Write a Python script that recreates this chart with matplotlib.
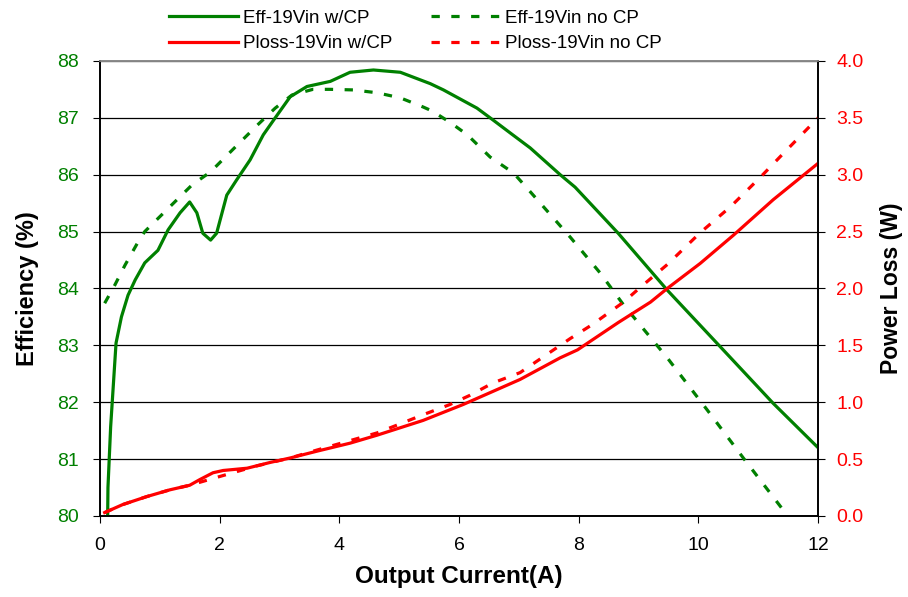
import matplotlib.pyplot as plt
from matplotlib.lines import Line2D

plt.rcParams['font.family'] = ['Liberation Sans', 'DejaVu Sans']

# efficiency (%) vs output current (A)
eff_cp_x = [0.13, 0.135, 0.18, 0.27, 0.36, 0.47, 0.59, 0.75, 0.97, 1.14, 1.34, 1.5,
            1.62, 1.72, 1.85, 1.95, 2.12, 2.28, 2.51, 2.73, 2.93, 3.18, 3.46, 3.85,
            4.18, 4.57, 5.02, 5.52, 5.74, 6.3, 6.57, 6.86, 7.19, 7.69, 7.94, 8.66,
            9.48, 10.37, 11.25, 12.0]
eff_cp = [80.0, 80.5, 81.57, 83.04, 83.5, 83.88, 84.15, 84.45, 84.67, 85.03, 85.33, 85.52,
          85.33, 84.97, 84.85, 84.97, 85.64, 85.9, 86.26, 86.7, 87.0, 87.37, 87.55, 87.64,
          87.8, 87.84, 87.8, 87.6, 87.49, 87.17, 86.96, 86.73, 86.47, 86.0, 85.78, 84.97,
          83.97, 82.97, 81.98, 81.2]

eff_nocp_x = [0.08, 0.25, 0.42, 0.64, 0.75, 1.0, 1.25, 1.54, 1.85, 2.2, 2.63, 2.93, 3.21,
              3.56, 3.85, 4.23, 4.63, 5.02, 5.4, 5.55, 5.85, 6.14, 6.52, 6.91, 7.14, 7.86,
              8.36, 8.75, 9.48, 10.15, 10.75, 11.42, 11.48]
eff_nocp = [83.74, 84.06, 84.41, 84.82, 85.0, 85.26, 85.52, 85.82, 86.05, 86.42, 86.87, 87.17,
            87.4, 87.5, 87.5, 87.49, 87.44, 87.35, 87.19, 87.12, 86.92, 86.7, 86.31, 86.03,
            85.76, 84.9, 84.27, 83.71, 82.78, 81.86, 81.02, 80.1, 80.0]

# power loss (W)
ploss_cp_x = [0.08, 0.38, 0.78, 1.17, 1.5, 1.67, 1.89, 2.06, 2.46, 2.84, 3.18, 3.63, 4.18,
              4.63, 5.4, 6.07, 7.02, 7.69, 7.98, 8.66, 9.2, 9.48, 10.03, 10.59, 11.25, 12.0]
ploss_cp = [0.03, 0.1, 0.17, 0.23, 0.27, 0.32, 0.38, 0.40, 0.42, 0.47, 0.51, 0.57, 0.64,
            0.71, 0.84, 0.98, 1.2, 1.39, 1.46, 1.70, 1.88, 2.0, 2.22, 2.47, 2.78, 3.1]

ploss_nocp_x = [0.08, 0.38, 0.78, 1.17, 1.5, 1.89, 2.22, 2.62, 3.18, 3.63, 4.23, 4.63, 4.97,
                5.4, 5.85, 6.18, 6.57, 7.02, 7.86, 8.22, 8.75, 9.03, 9.48, 10.03, 10.54,
                11.04, 11.37, 12.0]
ploss_nocp = [0.03, 0.1, 0.17, 0.23, 0.27, 0.33, 0.38, 0.44, 0.51, 0.58, 0.67, 0.73, 0.80,
              0.89, 0.98, 1.06, 1.17, 1.26, 1.56, 1.68, 1.88, 2.01, 2.21, 2.49, 2.72,
              2.98, 3.16, 3.5]

green = '#008000'
red = '#ff0000'
dash = (0, (2.6, 3.6))

fig = plt.figure(figsize=(9.08, 5.97), dpi=100)
ax = fig.add_axes([0.110, 0.1357, 0.791, 0.7623])
ax2 = ax.twinx()

ax.plot(eff_cp_x, eff_cp, color=green, lw=2.3, zorder=3)
ax.plot(eff_nocp_x, eff_nocp, color=green, lw=2.3, linestyle=dash, zorder=3)
ax2.plot(ploss_cp_x, ploss_cp, color=red, lw=2.3)
ax2.plot(ploss_nocp_x, ploss_nocp, color=red, lw=2.3, linestyle=dash)

ax.set_xlim(0, 12)
ax.set_ylim(80, 88)
ax2.set_ylim(0, 4)
ax.set_xticks(range(0, 13, 2))
ax.set_yticks(range(80, 89))
ax2.set_yticks([i * 0.5 for i in range(9)])
ax2.set_yticklabels(['%.1f' % (i * 0.5) for i in range(9)])

ax.grid(axis='y', color='black', lw=0.9)
ax.set_axisbelow(True)

for a in (ax, ax2):
    a.spines['top'].set_color('#888888')
    a.spines['left'].set_color('black')
    a.spines['right'].set_color('black')
    a.spines['bottom'].set_color('black')
    for s in a.spines.values():
        s.set_linewidth(1.2)

ax.tick_params(axis='y', labelcolor=green, color='black', labelsize=14, length=5, pad=10)
ax.tick_params(axis='x', labelsize=14, length=5, pad=10)
ax2.tick_params(axis='y', labelcolor=red, color='black', labelsize=14, length=5, pad=8)

ax.set_xlabel('Output Current(A)', fontsize=17.5, fontweight='bold', labelpad=8)
ax.set_ylabel('Efficiency (%)', fontsize=17, fontweight='bold', labelpad=13)
ax2.set_ylabel('Power Loss (W)', fontsize=16.5, fontweight='bold', labelpad=12)

handles = [
    Line2D([], [], color=green, lw=2.3),
    Line2D([], [], color=red, lw=2.3),
    Line2D([], [], color=green, lw=2.3, linestyle=dash),
    Line2D([], [], color=red, lw=2.3, linestyle=dash),
]
labels = ['Eff-19Vin w/CP', 'Ploss-19Vin w/CP', 'Eff-19Vin no CP', 'Ploss-19Vin no CP']
fig.legend(handles, labels, ncol=2, loc='upper left', bbox_to_anchor=(0.168, 1.012),
           frameon=False, fontsize=13.5, handlelength=3.65, handletextpad=0.3,
           columnspacing=2.05, labelspacing=0.45)

fig.savefig('out.png', dpi=100)
